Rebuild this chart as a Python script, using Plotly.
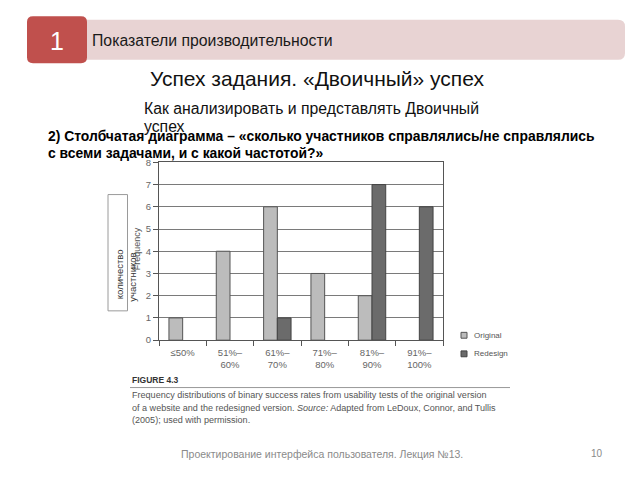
import plotly.graph_objects as go

# ---- data ----
categories = ["≤50%", "51%–60%", "61%–70%", "71%–80%", "81%–90%", "91%–100%"]
tick_labels = ["≤50%", "51%–<br>60%", "61%–<br>70%", "71%–<br>80%", "81%–<br>90%", "91%–<br>100%"]
original = [1, 4, 6, 3, 2, 0]
redesign = [0, 0, 1, 0, 7, 6]
series_names = ["Original", "Redesign"]
y_ticks = [0, 1, 2, 3, 4, 5, 6, 7, 8]

W, H = 640, 480
def px(x):
    return x / W
def py(y):
    return 1 - y / H

ORIG_FILL = "#bcbcbc"
RED_FILL = "#6b6b6b"
FONT = "Liberation Sans, Arial, sans-serif"

fig = go.Figure()
fig.add_trace(go.Bar(x=categories, y=original, name=series_names[0],
                     marker=dict(color=ORIG_FILL,
                                 line=dict(color="#555555", width=[1 if v else 0 for v in original])),
                     showlegend=False))
fig.add_trace(go.Bar(x=categories, y=redesign, name=series_names[1],
                     marker=dict(color=RED_FILL,
                                 line=dict(color="#444444", width=[1 if v else 0 for v in redesign])),
                     showlegend=False))

def rrect(x0, y0, x1, y1, r):
    X = lambda v: f"{px(v):.5f}"
    Y = lambda v: f"{py(v):.5f}"
    return (f"M {X(x0+r)},{Y(y0)} L {X(x1-r)},{Y(y0)} Q {X(x1)},{Y(y0)} {X(x1)},{Y(y0+r)} "
            f"L {X(x1)},{Y(y1-r)} Q {X(x1)},{Y(y1)} {X(x1-r)},{Y(y1)} "
            f"L {X(x0+r)},{Y(y1)} Q {X(x0)},{Y(y1)} {X(x0)},{Y(y1-r)} "
            f"L {X(x0)},{Y(y0+r)} Q {X(x0)},{Y(y0)} {X(x0+r)},{Y(y0)} Z")

shapes = [
    dict(type="path", xref="paper", yref="paper", path=rrect(80, 14, 625, 55, 7),
         fillcolor="#e8d3d3", line=dict(width=0), layer="below"),
    dict(type="path", xref="paper", yref="paper", path=rrect(27, 10.5, 87, 58.5, 6),
         fillcolor="#c0504d", line=dict(width=0), layer="below"),
    dict(type="rect", xref="paper", yref="paper", x0=px(108), x1=px(127.5), y0=py(193), y1=py(312),
         fillcolor="white", line=dict(color="#9a9a9a", width=1)),
    dict(type="line", xref="paper", yref="paper", x0=px(130), x1=px(510), y0=py(390.5), y1=py(390.5),
         line=dict(color="#999999", width=1)),
    dict(type="rect", xref="paper", yref="paper", x0=px(461), x1=px(467), y0=py(334), y1=py(340),
         fillcolor=ORIG_FILL, line=dict(color="#555555", width=1)),
    dict(type="rect", xref="paper", yref="paper", x0=px(461), x1=px(467), y0=py(353), y1=py(359),
         fillcolor=RED_FILL, line=dict(color="#444444", width=1)),
]

def ann(x, y, text, size, color="#222222", xanchor="left", yanchor="middle", angle=0, family=FONT):
    return dict(x=px(x), y=py(y), xref="paper", yref="paper", text=text, showarrow=False,
                xanchor=xanchor, yanchor=yanchor, textangle=angle,
                font=dict(size=size, color=color, family=family))

annotations = [
    ann(56.5, 35.5, "1", 25, "white", xanchor="center"),
    ann(90, 35, "Показатели производительности", 15.8, "#1a1a1a"),
    ann(317, 74, "Успех задания. «Двоичный» успех", 21, "#111111", xanchor="center"),
    ann(142, 105, "Как анализировать и представлять Двоичный", 15.8, "#111111"),
    ann(142, 123, "успех", 15.8, "#111111"),
    ann(46, 133.5, "<b>2) Столбчатая диаграмма – «сколько участников справлялись/не справлялись</b>", 13.9, "#000000"),
    ann(46, 150.5, "<b>с всеми задачами, и с какой частотой?»</b>", 13.9, "#000000"),
    ann(137, 249, "Frequency", 9, "#555555", xanchor="center", angle=-90),
    ann(119.5, 275, "количество", 9.5, "#333333", xanchor="center", angle=-90),
    ann(133, 278, "участников", 9.5, "#333333", xanchor="center", angle=-90),
    ann(472, 337, series_names[0], 8, "#555555"),
    ann(472, 356, series_names[1], 8, "#555555"),
    ann(130, 383, "<b>FIGURE 4.3</b>", 8.5, "#333333"),
    ann(130, 398.5, "Frequency distributions of binary success rates from usability tests of the original version", 9.05, "#555555"),
    ann(130, 411.5, "of a website and the redesigned version. <i>Source:</i> Adapted from LeDoux, Connor, and Tullis", 9.05, "#555555"),
    ann(130, 424, "(2005); used with permission.", 9.05, "#555555"),
    ann(322, 458, "Проектирование интерфейса пользователя. Лекция №13.", 10.5, "#8a8a8a", xanchor="center"),
    ann(597, 458, "10", 10, "#8a8a8a", xanchor="center"),
]

fig.update_layout(
    width=W, height=H,
    margin=dict(l=0, r=0, t=0, b=0),
    paper_bgcolor="white", plot_bgcolor="white",
    barmode="group", bargap=0.42, bargroupgap=0,
    shapes=shapes, annotations=annotations,
    font=dict(family=FONT),
    xaxis=dict(domain=[px(159), px(443)], range=[-0.5, 5.5],
               tickmode="array", tickvals=categories, ticktext=tick_labels,
               tickson="boundaries", ticks="outside", ticklen=5, tickcolor="#555555",
               ticklabelstandoff=3,
               showline=True, linecolor="#555555", linewidth=1, mirror=True,
               showgrid=False, tickfont=dict(size=9.5, color="#666666"), fixedrange=True),
    yaxis=dict(domain=[py(342), py(160)], range=[0, 8],
               tickmode="array", tickvals=y_ticks,
               ticks="outside", ticklen=5, tickcolor="#555555",
               showline=True, linecolor="#555555", linewidth=1, mirror=True,
               showgrid=True, gridcolor="#7a7a7a", gridwidth=1, zeroline=False,
               tickfont=dict(size=9.5, color="#666666"), fixedrange=True),
)

fig.write_html("out.html")
